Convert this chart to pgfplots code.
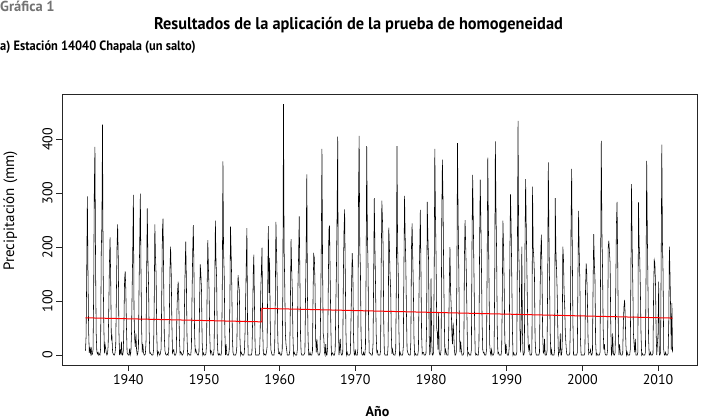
\documentclass[border=0pt]{standalone}
\usepackage{fontspec}
\setmainfont{PT Sans}
\usepackage{pgfplots}
\usepackage{pgfplotstable}
\pgfplotsset{compat=1.18}

% Monthly precipitation (mm), May 1934 - Dec 2011, one line per year
\pgfplotstableread[row sep=\\]{
p\\
8\\ 36\\ 161\\ 294\\ 150\\ 45\\ 4\\ 12\\
3\\ 15\\ 0\\ 2\\ 10\\ 120\\ 310\\ 386\\ 170\\ 40\\ 6\\ 2\\
5\\ 0\\ 2\\ 0\\ 12\\ 190\\ 241\\ 427\\ 160\\ 60\\ 3\\ 20\\
12\\ 4\\ 0\\ 3\\ 18\\ 90\\ 170\\ 218\\ 140\\ 30\\ 35\\ 5\\
2\\ 0\\ 0\\ 5\\ 20\\ 110\\ 200\\ 242\\ 180\\ 45\\ 0\\ 8\\
3\\ 25\\ 0\\ 0\\ 8\\ 60\\ 140\\ 155\\ 120\\ 50\\ 4\\ 2\\
0\\ 0\\ 12\\ 0\\ 5\\ 40\\ 120\\ 200\\ 297\\ 80\\ 30\\ 15\\
40\\ 10\\ 0\\ 3\\ 15\\ 130\\ 210\\ 299\\ 160\\ 50\\ 5\\ 20\\
5\\ 0\\ 0\\ 2\\ 25\\ 150\\ 272\\ 180\\ 130\\ 45\\ 3\\ 4\\
2\\ 0\\ 0\\ 0\\ 10\\ 95\\ 242\\ 182\\ 150\\ 40\\ 0\\ 5\\
6\\ 0\\ 0\\ 4\\ 12\\ 120\\ 230\\ 253\\ 140\\ 35\\ 8\\ 2\\
0\\ 0\\ 2\\ 0\\ 8\\ 70\\ 161\\ 201\\ 150\\ 60\\ 4\\ 8\\
10\\ 0\\ 0\\ 0\\ 5\\ 80\\ 117\\ 136\\ 100\\ 30\\ 2\\ 6\\
4\\ 0\\ 0\\ 3\\ 10\\ 90\\ 158\\ 210\\ 140\\ 35\\ 0\\ 3\\
2\\ 0\\ 0\\ 0\\ 15\\ 110\\ 190\\ 241\\ 160\\ 40\\ 6\\ 10\\
5\\ 2\\ 0\\ 0\\ 6\\ 100\\ 168\\ 150\\ 120\\ 25\\ 0\\ 4\\
0\\ 0\\ 0\\ 2\\ 20\\ 130\\ 213\\ 160\\ 120\\ 40\\ 3\\ 8\\
6\\ 0\\ 0\\ 0\\ 12\\ 120\\ 249\\ 175\\ 140\\ 30\\ 2\\ 0\\
3\\ 0\\ 0\\ 0\\ 8\\ 140\\ 359\\ 192\\ 150\\ 45\\ 0\\ 20\\
2\\ 0\\ 0\\ 0\\ 10\\ 100\\ 238\\ 190\\ 130\\ 30\\ 4\\ 0\\
0\\ 0\\ 0\\ 3\\ 15\\ 90\\ 148\\ 130\\ 120\\ 30\\ 0\\ 5\\
2\\ 0\\ 0\\ 0\\ 5\\ 40\\ 100\\ 170\\ 235\\ 60\\ 0\\ 0\\
0\\ 0\\ 0\\ 0\\ 5\\ 60\\ 150\\ 186\\ 90\\ 15\\ 0\\ 0\\
0\\ 0\\ 0\\ 0\\ 3\\ 40\\ 120\\ 160\\ 199\\ 50\\ 5\\ 0\\
2\\ 0\\ 0\\ 5\\ 15\\ 130\\ 239\\ 115\\ 180\\ 60\\ 10\\ 4\\
0\\ 0\\ 0\\ 0\\ 12\\ 100\\ 247\\ 190\\ 136\\ 30\\ 3\\ 2\\
5\\ 0\\ 0\\ 0\\ 10\\ 120\\ 465\\ 200\\ 130\\ 40\\ 20\\ 10\\
0\\ 0\\ 0\\ 0\\ 8\\ 100\\ 215\\ 160\\ 120\\ 35\\ 0\\ 5\\
2\\ 0\\ 0\\ 0\\ 10\\ 130\\ 186\\ 257\\ 150\\ 40\\ 4\\ 0\\
0\\ 0\\ 0\\ 2\\ 5\\ 110\\ 200\\ 335\\ 111\\ 30\\ 0\\ 0\\
5\\ 0\\ 0\\ 0\\ 8\\ 120\\ 186\\ 180\\ 130\\ 30\\ 5\\ 30\\
10\\ 0\\ 0\\ 0\\ 5\\ 90\\ 204\\ 382\\ 170\\ 40\\ 30\\ 5\\
0\\ 20\\ 0\\ 0\\ 15\\ 120\\ 232\\ 240\\ 150\\ 60\\ 0\\ 3\\
4\\ 0\\ 0\\ 0\\ 10\\ 90\\ 160\\ 260\\ 405\\ 70\\ 0\\ 10\\
30\\ 5\\ 0\\ 0\\ 5\\ 150\\ 230\\ 270\\ 150\\ 45\\ 0\\ 5\\
0\\ 0\\ 0\\ 0\\ 3\\ 60\\ 130\\ 189\\ 160\\ 40\\ 2\\ 0\\
8\\ 0\\ 0\\ 0\\ 12\\ 294\\ 406\\ 200\\ 160\\ 40\\ 3\\ 0\\
0\\ 5\\ 0\\ 0\\ 15\\ 150\\ 387\\ 230\\ 170\\ 60\\ 4\\ 3\\
3\\ 0\\ 0\\ 0\\ 20\\ 140\\ 291\\ 200\\ 130\\ 40\\ 5\\ 8\\
0\\ 0\\ 0\\ 0\\ 8\\ 170\\ 286\\ 250\\ 200\\ 60\\ 3\\ 0\\
0\\ 0\\ 0\\ 0\\ 20\\ 236\\ 200\\ 148\\ 120\\ 40\\ 2\\ 10\\
3\\ 0\\ 0\\ 0\\ 10\\ 130\\ 387\\ 200\\ 150\\ 50\\ 0\\ 5\\
0\\ 0\\ 0\\ 0\\ 15\\ 160\\ 295\\ 220\\ 170\\ 80\\ 10\\ 5\\
2\\ 0\\ 0\\ 0\\ 25\\ 200\\ 244\\ 180\\ 120\\ 30\\ 0\\ 3\\
0\\ 0\\ 0\\ 0\\ 10\\ 120\\ 193\\ 269\\ 160\\ 40\\ 2\\ 5\\
5\\ 0\\ 0\\ 0\\ 3\\ 60\\ 284\\ 220\\ 180\\ 40\\ 0\\ 8\\
142\\ 30\\ 0\\ 0\\ 5\\ 150\\ 382\\ 260\\ 180\\ 50\\ 40\\ 10\\
80\\ 5\\ 0\\ 0\\ 10\\ 250\\ 362\\ 290\\ 160\\ 70\\ 0\\ 10\\
5\\ 0\\ 0\\ 0\\ 40\\ 130\\ 200\\ 120\\ 90\\ 40\\ 20\\ 60\\
40\\ 10\\ 0\\ 0\\ 5\\ 150\\ 393\\ 250\\ 160\\ 50\\ 5\\ 25\\
10\\ 0\\ 0\\ 0\\ 5\\ 186\\ 250\\ 200\\ 150\\ 70\\ 0\\ 5\\
3\\ 0\\ 0\\ 0\\ 10\\ 210\\ 334\\ 250\\ 160\\ 70\\ 5\\ 0\\
2\\ 0\\ 0\\ 0\\ 20\\ 200\\ 325\\ 250\\ 160\\ 60\\ 10\\ 4\\
5\\ 0\\ 0\\ 0\\ 10\\ 170\\ 366\\ 240\\ 130\\ 20\\ 5\\ 0\\
10\\ 0\\ 0\\ 0\\ 5\\ 140\\ 396\\ 270\\ 190\\ 50\\ 3\\ 5\\
0\\ 0\\ 0\\ 0\\ 8\\ 110\\ 249\\ 200\\ 130\\ 30\\ 2\\ 20\\
5\\ 0\\ 0\\ 0\\ 15\\ 180\\ 298\\ 240\\ 150\\ 50\\ 0\\ 4\\
0\\ 0\\ 0\\ 0\\ 5\\ 200\\ 434\\ 200\\ 150\\ 50\\ 5\\ 60\\
201\\ 40\\ 0\\ 0\\ 5\\ 200\\ 326\\ 240\\ 160\\ 80\\ 20\\ 10\\
20\\ 0\\ 0\\ 0\\ 5\\ 312\\ 200\\ 180\\ 150\\ 30\\ 5\\ 0\\
0\\ 0\\ 0\\ 0\\ 5\\ 120\\ 190\\ 223\\ 150\\ 40\\ 5\\ 3\\
30\\ 0\\ 0\\ 0\\ 8\\ 140\\ 357\\ 220\\ 130\\ 40\\ 0\\ 10\\
0\\ 0\\ 0\\ 0\\ 10\\ 291\\ 195\\ 160\\ 120\\ 50\\ 0\\ 5\\
5\\ 40\\ 0\\ 0\\ 15\\ 201\\ 180\\ 117\\ 90\\ 40\\ 20\\ 3\\
0\\ 0\\ 0\\ 0\\ 3\\ 60\\ 232\\ 345\\ 200\\ 60\\ 0\\ 0\\
0\\ 0\\ 0\\ 0\\ 5\\ 150\\ 267\\ 190\\ 140\\ 30\\ 0\\ 0\\
0\\ 0\\ 0\\ 0\\ 5\\ 120\\ 170\\ 150\\ 100\\ 30\\ 2\\ 5\\
5\\ 10\\ 0\\ 0\\ 5\\ 130\\ 224\\ 170\\ 140\\ 25\\ 0\\ 3\\
0\\ 0\\ 0\\ 0\\ 5\\ 176\\ 397\\ 230\\ 160\\ 50\\ 10\\ 20\\
2\\ 0\\ 0\\ 0\\ 10\\ 200\\ 212\\ 190\\ 170\\ 60\\ 0\\ 3\\
40\\ 5\\ 0\\ 0\\ 5\\ 127\\ 241\\ 284\\ 180\\ 50\\ 0\\ 20\\
5\\ 0\\ 0\\ 0\\ 3\\ 60\\ 90\\ 102\\ 70\\ 20\\ 0\\ 5\\
0\\ 0\\ 0\\ 0\\ 10\\ 155\\ 317\\ 200\\ 130\\ 40\\ 20\\ 5\\
30\\ 0\\ 0\\ 0\\ 5\\ 283\\ 204\\ 180\\ 120\\ 40\\ 0\\ 3\\
0\\ 0\\ 0\\ 0\\ 5\\ 150\\ 360\\ 230\\ 130\\ 30\\ 0\\ 0\\
5\\ 0\\ 0\\ 0\\ 3\\ 120\\ 176\\ 170\\ 130\\ 40\\ 0\\ 20\\
40\\ 136\\ 0\\ 0\\ 5\\ 180\\ 390\\ 210\\ 150\\ 10\\ 0\\ 0\\
5\\ 0\\ 0\\ 0\\ 3\\ 60\\ 201\\ 150\\ 80\\ 10\\ 96\\ 5\\
}\precip

\begin{document}
\begin{tikzpicture}[x=1pt,y=1pt]
\useasboundingbox (0,0) rectangle (708,-419);
\node[anchor=base west, inner sep=0, text=black!55, font=\bfseries\fontsize{14.5}{14.5}\selectfont] at (0,-12) {Gráfica 1};
\node[anchor=base, inner sep=0, font=\bfseries\fontsize{17}{17}\selectfont] at (358.5,-29.5) {\scalebox{0.96}[1]{Resultados de la aplicación de la prueba de homogeneidad}};
\node[anchor=base west, inner sep=0, font=\bfseries\fontsize{13.5}{13.5}\selectfont] at (0,-50.5) {\scalebox{0.92}[1]{a) Estación 14040 Chapala (un salto)}};
\node[anchor=base, inner sep=0, rotate=90, font=\fontsize{15}{15}\selectfont] at (14,-211) {Precipitación (mm)};
\node[anchor=base, inner sep=0, font=\bfseries\fontsize{14}{14}\selectfont] at (377.5,-416) {Año};
\begin{axis}[
  at={(62pt,-365pt)}, anchor=south west,
  scale only axis, width=635pt, height=270pt,
  xmin=1931.23, xmax=2015.15, ymin=-18.5, ymax=482,
  xtick={1940,1950,...,2010}, ytick={0,100,...,400},
  tick pos=left, tick align=outside, major tick length=6pt,
  axis line style={line width=1pt, black!85},
  every tick/.style={black!85, line width=0.8pt},
  /pgf/number format/1000 sep={},
  /pgf/number format/assume math mode=true,
  tick label style={font=\fontsize{14}{14}\selectfont},
  y tick label style={rotate=90, anchor=south, xshift=0pt},
]
\addplot[black, line width=0.55pt] table[x expr={1934+(\coordindex+4)/12}, y=p] {\precip};
\addplot[red, line width=1pt] coordinates {(1934.333,69) (1957.64,61.5) (1957.64,86.5) (2011.917,68.5)};
\end{axis}
\end{tikzpicture}
\end{document}
